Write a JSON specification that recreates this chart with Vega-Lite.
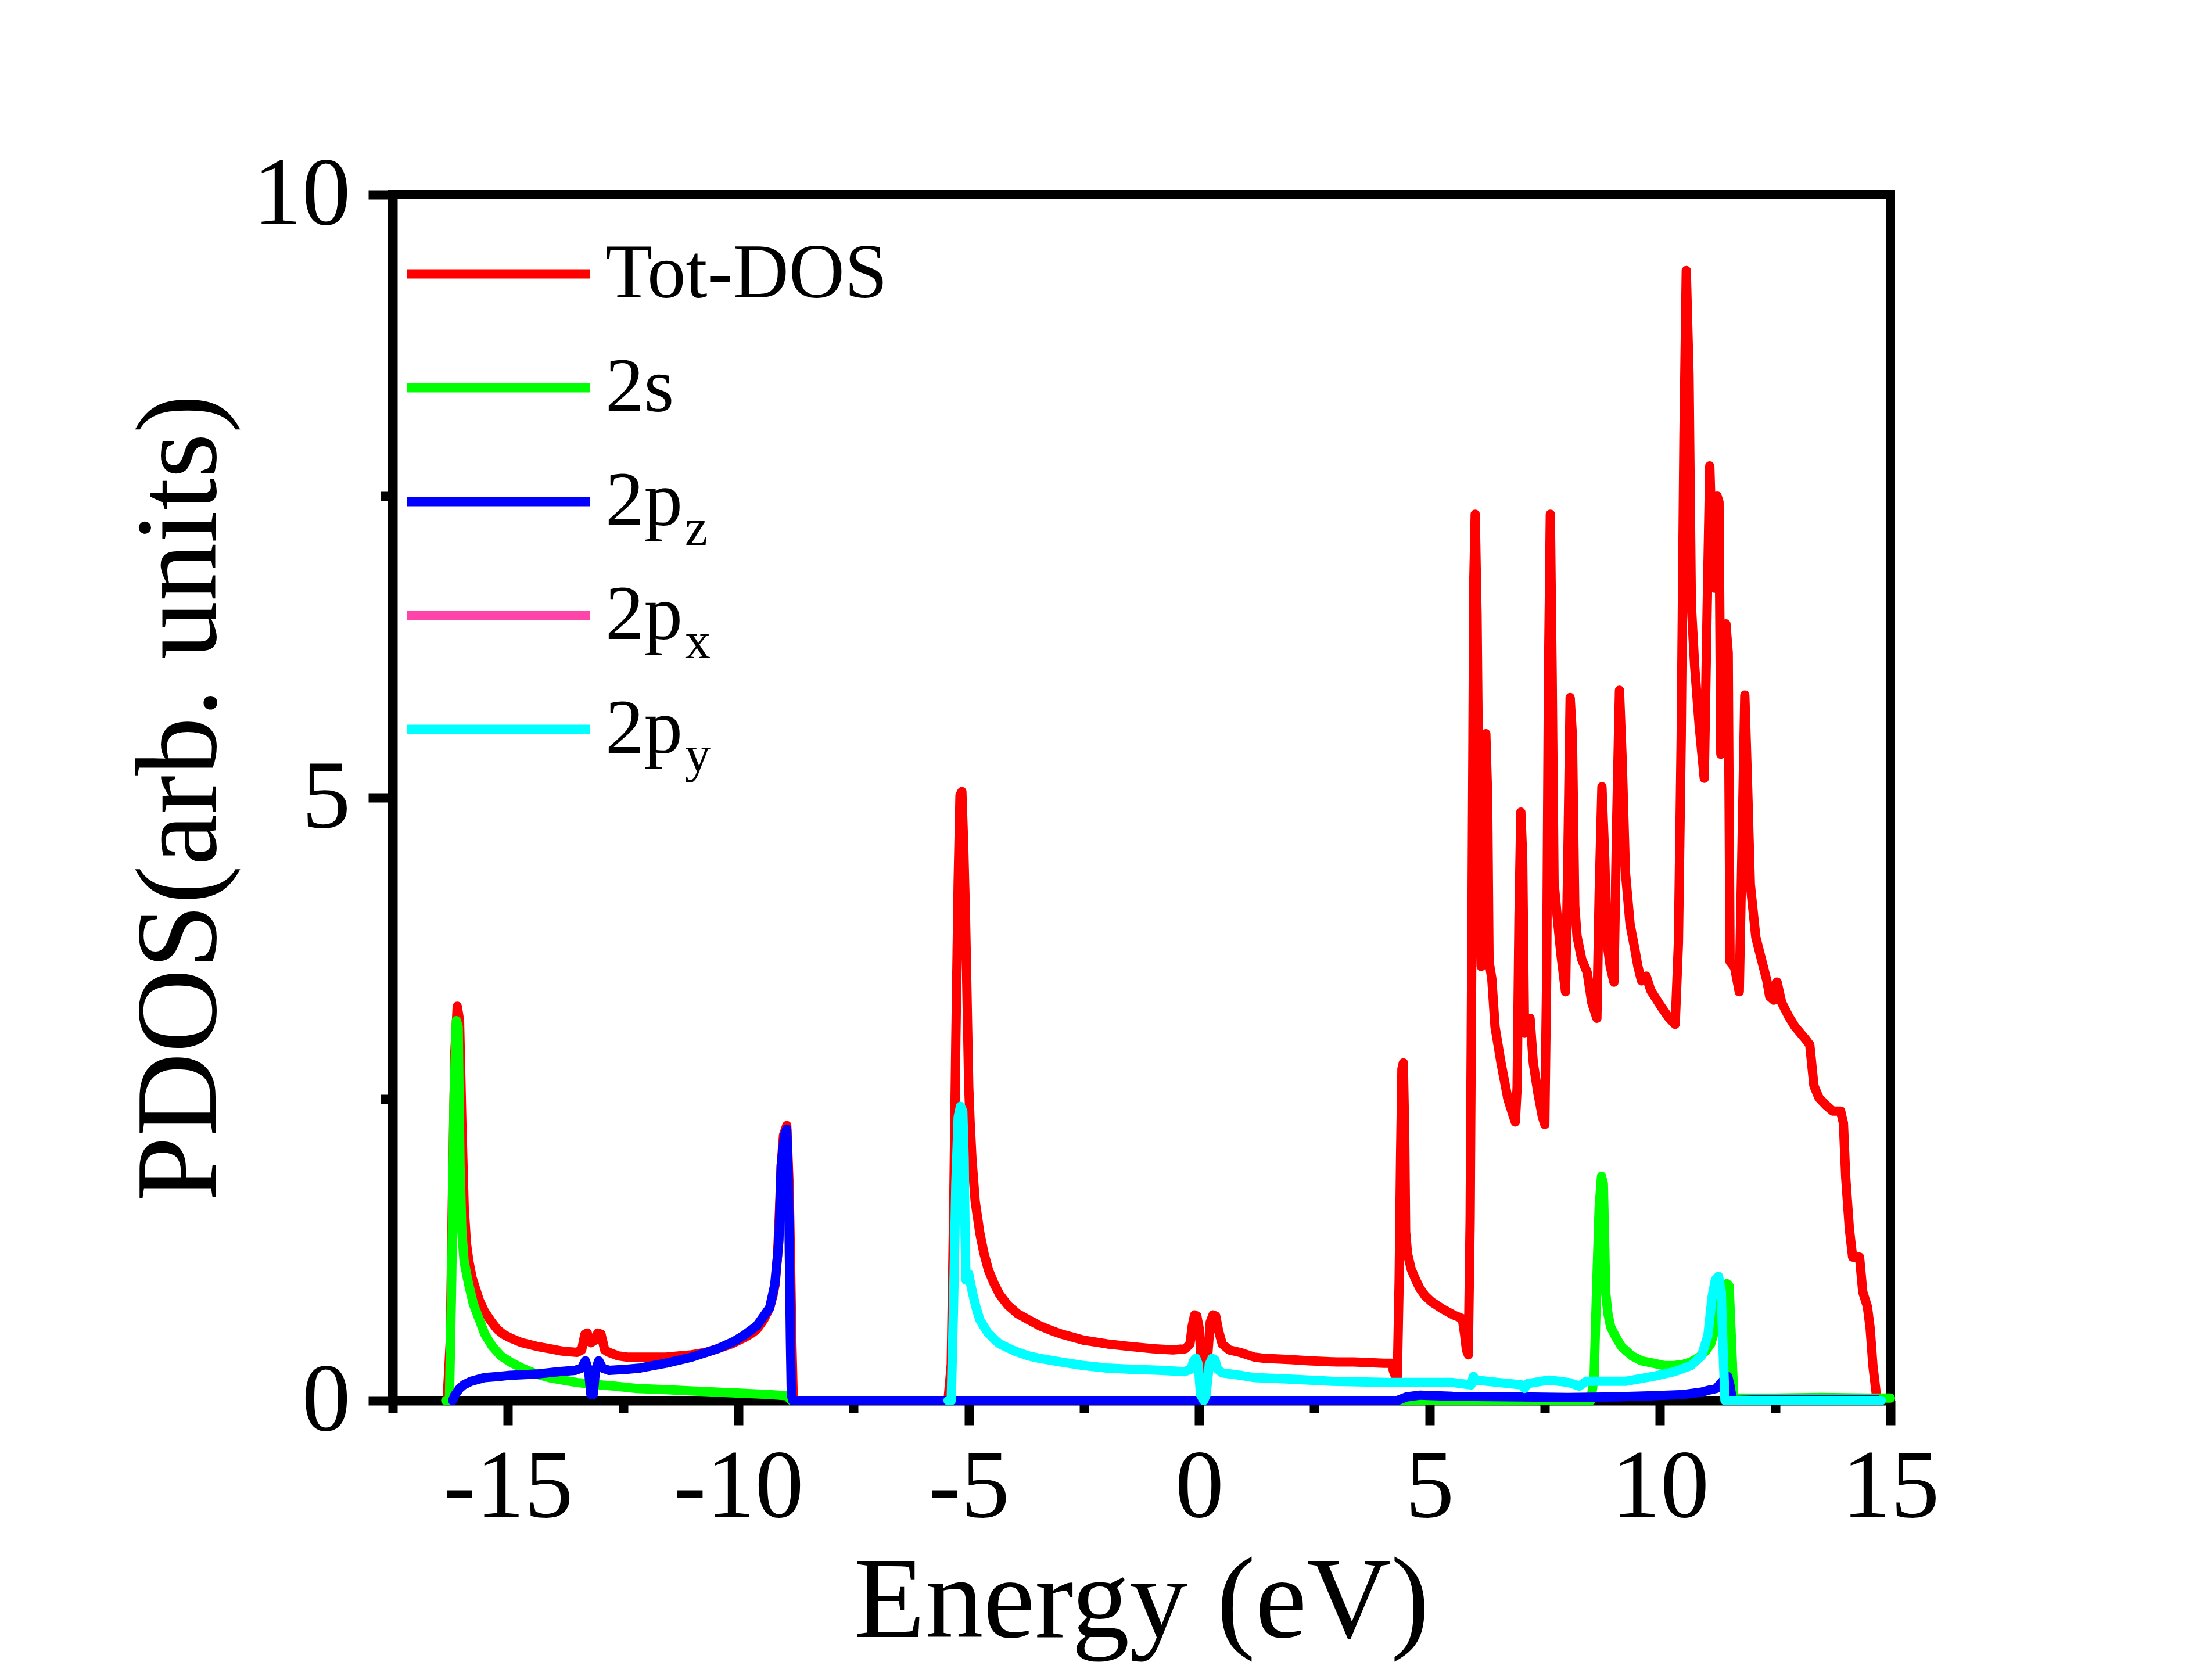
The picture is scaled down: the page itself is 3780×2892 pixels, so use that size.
{
  "$schema": "https://vega.github.io/schema/vega-lite/v6.json",
  "autosize": "none",
  "width": 2578,
  "height": 2076,
  "padding": {"left": 676, "top": 335, "right": 526, "bottom": 481},
  "background": "white",
  "config": {
    "view": {"stroke": "black", "strokeWidth": 16},
    "font": "Liberation Serif",
    "axis": {
      "domainColor": "black", "domainWidth": 16, "tickColor": "black", "tickWidth": 16,
      "grid": false, "labelColor": "black", "titleColor": "black", "zindex": 1,
      "labelFont": "Liberation Serif", "labelFontSize": 168, "titleFont": "Liberation Serif", "labelLimit": 0,
      "titleFontSize": 200, "titleFontWeight": "normal", "labelFlush": false, "labelOverlap": false, "labelBound": false
    }
  },
  "datasets": {
    "tot": [
      {"E": -16.32, "v": 0, "series": "Tot-DOS"}, {"E": -16.25, "v": 0.5, "series": "Tot-DOS"}, {"E": -16.2, "v": 1.8, "series": "Tot-DOS"},
      {"E": -16.15, "v": 2.9, "series": "Tot-DOS"}, {"E": -16.1, "v": 3.27, "series": "Tot-DOS"}, {"E": -16.05, "v": 3.15, "series": "Tot-DOS"},
      {"E": -16.0, "v": 2.3, "series": "Tot-DOS"}, {"E": -15.95, "v": 1.6, "series": "Tot-DOS"}, {"E": -15.9, "v": 1.3, "series": "Tot-DOS"},
      {"E": -15.85, "v": 1.16, "series": "Tot-DOS"}, {"E": -15.78, "v": 1.02, "series": "Tot-DOS"}, {"E": -15.73, "v": 0.96, "series": "Tot-DOS"},
      {"E": -15.62, "v": 0.83, "series": "Tot-DOS"}, {"E": -15.51, "v": 0.74, "series": "Tot-DOS"}, {"E": -15.37, "v": 0.66, "series": "Tot-DOS"},
      {"E": -15.23, "v": 0.59, "series": "Tot-DOS"}, {"E": -15.1, "v": 0.55, "series": "Tot-DOS"}, {"E": -14.95, "v": 0.52, "series": "Tot-DOS"},
      {"E": -14.7, "v": 0.48, "series": "Tot-DOS"}, {"E": -14.38, "v": 0.45, "series": "Tot-DOS"}, {"E": -14.1, "v": 0.43, "series": "Tot-DOS"},
      {"E": -13.82, "v": 0.41, "series": "Tot-DOS"}, {"E": -13.5, "v": 0.4, "series": "Tot-DOS"}, {"E": -13.4, "v": 0.42, "series": "Tot-DOS"},
      {"E": -13.33, "v": 0.55, "series": "Tot-DOS"}, {"E": -13.28, "v": 0.56, "series": "Tot-DOS"}, {"E": -13.2, "v": 0.48, "series": "Tot-DOS"},
      {"E": -13.12, "v": 0.5, "series": "Tot-DOS"}, {"E": -13.05, "v": 0.56, "series": "Tot-DOS"}, {"E": -12.98, "v": 0.55, "series": "Tot-DOS"},
      {"E": -12.9, "v": 0.42, "series": "Tot-DOS"}, {"E": -12.81, "v": 0.4, "series": "Tot-DOS"}, {"E": -12.6, "v": 0.37, "series": "Tot-DOS"},
      {"E": -12.41, "v": 0.36, "series": "Tot-DOS"}, {"E": -12.0, "v": 0.36, "series": "Tot-DOS"}, {"E": -11.57, "v": 0.36, "series": "Tot-DOS"},
      {"E": -11.3, "v": 0.37, "series": "Tot-DOS"}, {"E": -11.01, "v": 0.38, "series": "Tot-DOS"}, {"E": -10.7, "v": 0.4, "series": "Tot-DOS"},
      {"E": -10.45, "v": 0.43, "series": "Tot-DOS"}, {"E": -10.15, "v": 0.47, "series": "Tot-DOS"}, {"E": -9.88, "v": 0.52, "series": "Tot-DOS"},
      {"E": -9.7, "v": 0.56, "series": "Tot-DOS"}, {"E": -9.6, "v": 0.59, "series": "Tot-DOS"}, {"E": -9.45, "v": 0.67, "series": "Tot-DOS"},
      {"E": -9.32, "v": 0.77, "series": "Tot-DOS"}, {"E": -9.25, "v": 0.87, "series": "Tot-DOS"}, {"E": -9.2, "v": 0.97, "series": "Tot-DOS"},
      {"E": -9.15, "v": 1.2, "series": "Tot-DOS"}, {"E": -9.12, "v": 1.45, "series": "Tot-DOS"}, {"E": -9.07, "v": 1.95, "series": "Tot-DOS"},
      {"E": -9.02, "v": 2.2, "series": "Tot-DOS"}, {"E": -8.95, "v": 2.28, "series": "Tot-DOS"}, {"E": -8.9, "v": 1.8, "series": "Tot-DOS"},
      {"E": -8.87, "v": 1.21, "series": "Tot-DOS"}, {"E": -8.84, "v": 0.5, "series": "Tot-DOS"}, {"E": -8.81, "v": 0.04, "series": "Tot-DOS"},
      {"E": -8.78, "v": 0, "series": "Tot-DOS"}, {"E": -5.45, "v": 0, "series": "Tot-DOS"}, {"E": -5.38, "v": 0.3, "series": "Tot-DOS"},
      {"E": -5.33, "v": 1.5, "series": "Tot-DOS"}, {"E": -5.28, "v": 3.0, "series": "Tot-DOS"}, {"E": -5.23, "v": 4.3, "series": "Tot-DOS"},
      {"E": -5.19, "v": 5.02, "series": "Tot-DOS"}, {"E": -5.15, "v": 5.05, "series": "Tot-DOS"}, {"E": -5.11, "v": 4.6, "series": "Tot-DOS"},
      {"E": -5.07, "v": 4.0, "series": "Tot-DOS"}, {"E": -5.03, "v": 3.2, "series": "Tot-DOS"}, {"E": -5.0, "v": 2.6, "series": "Tot-DOS"},
      {"E": -4.97, "v": 2.3, "series": "Tot-DOS"}, {"E": -4.93, "v": 2.0, "series": "Tot-DOS"}, {"E": -4.86, "v": 1.65, "series": "Tot-DOS"},
      {"E": -4.76, "v": 1.39, "series": "Tot-DOS"}, {"E": -4.67, "v": 1.22, "series": "Tot-DOS"}, {"E": -4.57, "v": 1.08, "series": "Tot-DOS"},
      {"E": -4.45, "v": 0.97, "series": "Tot-DOS"}, {"E": -4.33, "v": 0.88, "series": "Tot-DOS"}, {"E": -4.15, "v": 0.79, "series": "Tot-DOS"},
      {"E": -3.94, "v": 0.72, "series": "Tot-DOS"}, {"E": -3.7, "v": 0.67, "series": "Tot-DOS"}, {"E": -3.46, "v": 0.62, "series": "Tot-DOS"},
      {"E": -3.2, "v": 0.58, "series": "Tot-DOS"}, {"E": -2.98, "v": 0.55, "series": "Tot-DOS"}, {"E": -2.5, "v": 0.5, "series": "Tot-DOS"},
      {"E": -2.0, "v": 0.47, "series": "Tot-DOS"}, {"E": -1.53, "v": 0.45, "series": "Tot-DOS"}, {"E": -1.0, "v": 0.43, "series": "Tot-DOS"},
      {"E": -0.57, "v": 0.42, "series": "Tot-DOS"}, {"E": -0.3, "v": 0.43, "series": "Tot-DOS"}, {"E": -0.2, "v": 0.47, "series": "Tot-DOS"},
      {"E": -0.15, "v": 0.62, "series": "Tot-DOS"}, {"E": -0.1, "v": 0.71, "series": "Tot-DOS"}, {"E": -0.05, "v": 0.7, "series": "Tot-DOS"},
      {"E": 0.0, "v": 0.6, "series": "Tot-DOS"}, {"E": 0.05, "v": 0.3, "series": "Tot-DOS"}, {"E": 0.1, "v": 0.05, "series": "Tot-DOS"},
      {"E": 0.14, "v": 0.05, "series": "Tot-DOS"}, {"E": 0.18, "v": 0.35, "series": "Tot-DOS"}, {"E": 0.24, "v": 0.65, "series": "Tot-DOS"},
      {"E": 0.3, "v": 0.71, "series": "Tot-DOS"}, {"E": 0.36, "v": 0.7, "series": "Tot-DOS"}, {"E": 0.42, "v": 0.58, "series": "Tot-DOS"},
      {"E": 0.5, "v": 0.47, "series": "Tot-DOS"}, {"E": 0.65, "v": 0.42, "series": "Tot-DOS"}, {"E": 0.88, "v": 0.4, "series": "Tot-DOS"},
      {"E": 1.2, "v": 0.36, "series": "Tot-DOS"}, {"E": 1.42, "v": 0.35, "series": "Tot-DOS"}, {"E": 2.0, "v": 0.34, "series": "Tot-DOS"},
      {"E": 2.38, "v": 0.33, "series": "Tot-DOS"}, {"E": 3.0, "v": 0.32, "series": "Tot-DOS"}, {"E": 3.35, "v": 0.32, "series": "Tot-DOS"},
      {"E": 4.0, "v": 0.31, "series": "Tot-DOS"}, {"E": 4.17, "v": 0.31, "series": "Tot-DOS"}, {"E": 4.22, "v": 0.24, "series": "Tot-DOS"},
      {"E": 4.28, "v": 0.18, "series": "Tot-DOS"}, {"E": 4.3, "v": 0.2, "series": "Tot-DOS"}, {"E": 4.34, "v": 1.0, "series": "Tot-DOS"},
      {"E": 4.37, "v": 2.0, "series": "Tot-DOS"}, {"E": 4.4, "v": 2.75, "series": "Tot-DOS"}, {"E": 4.43, "v": 2.8, "series": "Tot-DOS"},
      {"E": 4.46, "v": 2.2, "series": "Tot-DOS"}, {"E": 4.48, "v": 1.4, "series": "Tot-DOS"}, {"E": 4.52, "v": 1.22, "series": "Tot-DOS"},
      {"E": 4.6, "v": 1.09, "series": "Tot-DOS"}, {"E": 4.7, "v": 1.0, "series": "Tot-DOS"}, {"E": 4.79, "v": 0.93, "series": "Tot-DOS"},
      {"E": 4.9, "v": 0.87, "series": "Tot-DOS"}, {"E": 5.04, "v": 0.82, "series": "Tot-DOS"}, {"E": 5.28, "v": 0.76, "series": "Tot-DOS"},
      {"E": 5.52, "v": 0.71, "series": "Tot-DOS"}, {"E": 5.71, "v": 0.68, "series": "Tot-DOS"}, {"E": 5.76, "v": 0.55, "series": "Tot-DOS"},
      {"E": 5.8, "v": 0.42, "series": "Tot-DOS"}, {"E": 5.84, "v": 0.38, "series": "Tot-DOS"}, {"E": 5.88, "v": 1.5, "series": "Tot-DOS"},
      {"E": 5.92, "v": 4.0, "series": "Tot-DOS"}, {"E": 5.96, "v": 6.8, "series": "Tot-DOS"}, {"E": 5.99, "v": 7.35, "series": "Tot-DOS"},
      {"E": 6.03, "v": 6.5, "series": "Tot-DOS"}, {"E": 6.08, "v": 4.5, "series": "Tot-DOS"}, {"E": 6.12, "v": 3.6, "series": "Tot-DOS"},
      {"E": 6.17, "v": 4.6, "series": "Tot-DOS"}, {"E": 6.22, "v": 5.53, "series": "Tot-DOS"}, {"E": 6.26, "v": 5.0, "series": "Tot-DOS"},
      {"E": 6.29, "v": 3.64, "series": "Tot-DOS"}, {"E": 6.35, "v": 3.5, "series": "Tot-DOS"}, {"E": 6.42, "v": 3.1, "series": "Tot-DOS"},
      {"E": 6.55, "v": 2.8, "series": "Tot-DOS"}, {"E": 6.7, "v": 2.5, "series": "Tot-DOS"}, {"E": 6.8, "v": 2.38, "series": "Tot-DOS"},
      {"E": 6.86, "v": 2.31, "series": "Tot-DOS"}, {"E": 6.9, "v": 2.6, "series": "Tot-DOS"}, {"E": 6.94, "v": 4.0, "series": "Tot-DOS"},
      {"E": 6.98, "v": 4.88, "series": "Tot-DOS"}, {"E": 7.02, "v": 4.5, "series": "Tot-DOS"}, {"E": 7.06, "v": 3.05, "series": "Tot-DOS"},
      {"E": 7.12, "v": 3.1, "series": "Tot-DOS"}, {"E": 7.18, "v": 3.17, "series": "Tot-DOS"}, {"E": 7.25, "v": 2.8, "series": "Tot-DOS"},
      {"E": 7.35, "v": 2.55, "series": "Tot-DOS"}, {"E": 7.45, "v": 2.35, "series": "Tot-DOS"}, {"E": 7.5, "v": 2.29, "series": "Tot-DOS"},
      {"E": 7.54, "v": 3.5, "series": "Tot-DOS"}, {"E": 7.58, "v": 6.0, "series": "Tot-DOS"}, {"E": 7.62, "v": 7.35, "series": "Tot-DOS"},
      {"E": 7.66, "v": 6.0, "series": "Tot-DOS"}, {"E": 7.7, "v": 4.3, "series": "Tot-DOS"}, {"E": 7.76, "v": 4.05, "series": "Tot-DOS"},
      {"E": 7.85, "v": 3.7, "series": "Tot-DOS"}, {"E": 7.95, "v": 3.39, "series": "Tot-DOS"}, {"E": 8.0, "v": 4.5, "series": "Tot-DOS"},
      {"E": 8.05, "v": 5.83, "series": "Tot-DOS"}, {"E": 8.1, "v": 5.5, "series": "Tot-DOS"}, {"E": 8.15, "v": 4.1, "series": "Tot-DOS"},
      {"E": 8.2, "v": 3.85, "series": "Tot-DOS"}, {"E": 8.3, "v": 3.66, "series": "Tot-DOS"}, {"E": 8.42, "v": 3.55, "series": "Tot-DOS"},
      {"E": 8.52, "v": 3.3, "series": "Tot-DOS"}, {"E": 8.63, "v": 3.17, "series": "Tot-DOS"}, {"E": 8.68, "v": 4.2, "series": "Tot-DOS"},
      {"E": 8.74, "v": 5.09, "series": "Tot-DOS"}, {"E": 8.8, "v": 4.5, "series": "Tot-DOS"}, {"E": 8.85, "v": 3.8, "series": "Tot-DOS"},
      {"E": 8.92, "v": 3.6, "series": "Tot-DOS"}, {"E": 9.0, "v": 3.47, "series": "Tot-DOS"}, {"E": 9.06, "v": 4.8, "series": "Tot-DOS"},
      {"E": 9.12, "v": 5.89, "series": "Tot-DOS"}, {"E": 9.18, "v": 5.3, "series": "Tot-DOS"}, {"E": 9.25, "v": 4.38, "series": "Tot-DOS"},
      {"E": 9.35, "v": 3.95, "series": "Tot-DOS"}, {"E": 9.45, "v": 3.75, "series": "Tot-DOS"}, {"E": 9.52, "v": 3.6, "series": "Tot-DOS"},
      {"E": 9.6, "v": 3.48, "series": "Tot-DOS"}, {"E": 9.7, "v": 3.52, "series": "Tot-DOS"}, {"E": 9.8, "v": 3.4, "series": "Tot-DOS"},
      {"E": 10.0, "v": 3.28, "series": "Tot-DOS"}, {"E": 10.2, "v": 3.17, "series": "Tot-DOS"}, {"E": 10.33, "v": 3.12, "series": "Tot-DOS"},
      {"E": 10.4, "v": 3.8, "series": "Tot-DOS"}, {"E": 10.46, "v": 5.5, "series": "Tot-DOS"}, {"E": 10.52, "v": 8.0, "series": "Tot-DOS"},
      {"E": 10.57, "v": 9.37, "series": "Tot-DOS"}, {"E": 10.63, "v": 8.5, "series": "Tot-DOS"}, {"E": 10.68, "v": 6.6, "series": "Tot-DOS"},
      {"E": 10.75, "v": 6.1, "series": "Tot-DOS"}, {"E": 10.85, "v": 5.6, "series": "Tot-DOS"}, {"E": 10.96, "v": 5.16, "series": "Tot-DOS"},
      {"E": 11.02, "v": 6.5, "series": "Tot-DOS"}, {"E": 11.08, "v": 7.75, "series": "Tot-DOS"}, {"E": 11.14, "v": 7.0, "series": "Tot-DOS"},
      {"E": 11.18, "v": 6.74, "series": "Tot-DOS"}, {"E": 11.24, "v": 7.5, "series": "Tot-DOS"}, {"E": 11.28, "v": 7.45, "series": "Tot-DOS"},
      {"E": 11.32, "v": 5.36, "series": "Tot-DOS"}, {"E": 11.38, "v": 5.6, "series": "Tot-DOS"}, {"E": 11.43, "v": 6.44, "series": "Tot-DOS"},
      {"E": 11.48, "v": 6.2, "series": "Tot-DOS"}, {"E": 11.52, "v": 3.64, "series": "Tot-DOS"}, {"E": 11.62, "v": 3.59, "series": "Tot-DOS"},
      {"E": 11.72, "v": 3.39, "series": "Tot-DOS"}, {"E": 11.78, "v": 4.6, "series": "Tot-DOS"}, {"E": 11.84, "v": 5.85, "series": "Tot-DOS"},
      {"E": 11.9, "v": 5.1, "series": "Tot-DOS"}, {"E": 11.96, "v": 4.28, "series": "Tot-DOS"}, {"E": 12.08, "v": 3.84, "series": "Tot-DOS"},
      {"E": 12.2, "v": 3.66, "series": "Tot-DOS"}, {"E": 12.32, "v": 3.48, "series": "Tot-DOS"}, {"E": 12.38, "v": 3.35, "series": "Tot-DOS"},
      {"E": 12.47, "v": 3.32, "series": "Tot-DOS"}, {"E": 12.54, "v": 3.47, "series": "Tot-DOS"}, {"E": 12.64, "v": 3.3, "series": "Tot-DOS"},
      {"E": 12.8, "v": 3.18, "series": "Tot-DOS"}, {"E": 12.93, "v": 3.1, "series": "Tot-DOS"}, {"E": 13.15, "v": 3.0, "series": "Tot-DOS"},
      {"E": 13.25, "v": 2.95, "series": "Tot-DOS"}, {"E": 13.34, "v": 2.61, "series": "Tot-DOS"}, {"E": 13.45, "v": 2.51, "series": "Tot-DOS"},
      {"E": 13.6, "v": 2.45, "series": "Tot-DOS"}, {"E": 13.75, "v": 2.4, "series": "Tot-DOS"}, {"E": 13.92, "v": 2.4, "series": "Tot-DOS"},
      {"E": 13.98, "v": 2.3, "series": "Tot-DOS"}, {"E": 14.03, "v": 1.85, "series": "Tot-DOS"}, {"E": 14.11, "v": 1.42, "series": "Tot-DOS"},
      {"E": 14.18, "v": 1.19, "series": "Tot-DOS"}, {"E": 14.33, "v": 1.19, "series": "Tot-DOS"}, {"E": 14.4, "v": 0.9, "series": "Tot-DOS"},
      {"E": 14.5, "v": 0.78, "series": "Tot-DOS"}, {"E": 14.56, "v": 0.6, "series": "Tot-DOS"}, {"E": 14.62, "v": 0.29, "series": "Tot-DOS"},
      {"E": 14.71, "v": 0.0, "series": "Tot-DOS"}
    ],
    "s2": [
      {"E": -16.35, "v": 0, "series": "2s"}, {"E": -16.27, "v": 0, "series": "2s"}, {"E": -16.22, "v": 1.0, "series": "2s"},
      {"E": -16.17, "v": 2.5, "series": "2s"}, {"E": -16.12, "v": 3.15, "series": "2s"}, {"E": -16.08, "v": 3.1, "series": "2s"},
      {"E": -16.04, "v": 1.95, "series": "2s"}, {"E": -16.0, "v": 1.4, "series": "2s"}, {"E": -15.95, "v": 1.15, "series": "2s"},
      {"E": -15.85, "v": 0.96, "series": "2s"}, {"E": -15.75, "v": 0.8, "series": "2s"}, {"E": -15.62, "v": 0.67, "series": "2s"},
      {"E": -15.5, "v": 0.55, "series": "2s"}, {"E": -15.34, "v": 0.45, "series": "2s"}, {"E": -15.15, "v": 0.37, "series": "2s"},
      {"E": -14.95, "v": 0.32, "series": "2s"}, {"E": -14.7, "v": 0.27, "series": "2s"}, {"E": -14.38, "v": 0.22, "series": "2s"},
      {"E": -14.1, "v": 0.19, "series": "2s"}, {"E": -13.82, "v": 0.17, "series": "2s"}, {"E": -13.5, "v": 0.15, "series": "2s"},
      {"E": -13.26, "v": 0.14, "series": "2s"}, {"E": -13.0, "v": 0.13, "series": "2s"}, {"E": -12.7, "v": 0.12, "series": "2s"},
      {"E": -12.2, "v": 0.1, "series": "2s"}, {"E": -11.57, "v": 0.09, "series": "2s"}, {"E": -11.0, "v": 0.08, "series": "2s"},
      {"E": -10.45, "v": 0.07, "series": "2s"}, {"E": -9.9, "v": 0.06, "series": "2s"}, {"E": -9.32, "v": 0.05, "series": "2s"},
      {"E": -8.95, "v": 0.04, "series": "2s"}, {"E": -8.85, "v": 0, "series": "2s"}, {"E": 8.5, "v": 0, "series": "2s"},
      {"E": 8.57, "v": 0.2, "series": "2s"}, {"E": 8.63, "v": 1.0, "series": "2s"}, {"E": 8.68, "v": 1.6, "series": "2s"},
      {"E": 8.73, "v": 1.86, "series": "2s"}, {"E": 8.77, "v": 1.8, "series": "2s"}, {"E": 8.8, "v": 1.3, "series": "2s"},
      {"E": 8.82, "v": 0.9, "series": "2s"}, {"E": 8.87, "v": 0.72, "series": "2s"}, {"E": 8.93, "v": 0.61, "series": "2s"},
      {"E": 9.05, "v": 0.52, "series": "2s"}, {"E": 9.16, "v": 0.45, "series": "2s"}, {"E": 9.39, "v": 0.37, "series": "2s"},
      {"E": 9.6, "v": 0.33, "series": "2s"}, {"E": 9.85, "v": 0.31, "series": "2s"}, {"E": 10.1, "v": 0.29, "series": "2s"},
      {"E": 10.31, "v": 0.29, "series": "2s"}, {"E": 10.5, "v": 0.3, "series": "2s"}, {"E": 10.67, "v": 0.32, "series": "2s"},
      {"E": 10.85, "v": 0.36, "series": "2s"}, {"E": 10.99, "v": 0.41, "series": "2s"}, {"E": 11.1, "v": 0.47, "series": "2s"},
      {"E": 11.2, "v": 0.6, "series": "2s"}, {"E": 11.3, "v": 0.8, "series": "2s"}, {"E": 11.38, "v": 0.95, "series": "2s"},
      {"E": 11.45, "v": 0.97, "series": "2s"}, {"E": 11.5, "v": 0.95, "series": "2s"}, {"E": 11.55, "v": 0.5, "series": "2s"},
      {"E": 11.6, "v": 0.02, "series": "2s"}, {"E": 12.5, "v": 0.02, "series": "2s"}, {"E": 13.5, "v": 0.025, "series": "2s"},
      {"E": 14.5, "v": 0.02, "series": "2s"}, {"E": 15.0, "v": 0.02, "series": "2s"}
    ],
    "pz": [
      {"E": -16.2, "v": 0, "series": "2p_z"}, {"E": -16.16, "v": 0.04, "series": "2p_z"}, {"E": -16.05, "v": 0.1, "series": "2p_z"},
      {"E": -15.96, "v": 0.13, "series": "2p_z"}, {"E": -15.8, "v": 0.16, "series": "2p_z"}, {"E": -15.51, "v": 0.19, "series": "2p_z"},
      {"E": -15.2, "v": 0.2, "series": "2p_z"}, {"E": -14.95, "v": 0.21, "series": "2p_z"}, {"E": -14.38, "v": 0.22, "series": "2p_z"},
      {"E": -13.9, "v": 0.24, "series": "2p_z"}, {"E": -13.54, "v": 0.25, "series": "2p_z"}, {"E": -13.4, "v": 0.27, "series": "2p_z"},
      {"E": -13.32, "v": 0.33, "series": "2p_z"}, {"E": -13.25, "v": 0.25, "series": "2p_z"}, {"E": -13.2, "v": 0.05, "series": "2p_z"},
      {"E": -13.15, "v": 0.05, "series": "2p_z"}, {"E": -13.1, "v": 0.25, "series": "2p_z"}, {"E": -13.03, "v": 0.33, "series": "2p_z"},
      {"E": -12.95, "v": 0.27, "series": "2p_z"}, {"E": -12.8, "v": 0.25, "series": "2p_z"}, {"E": -12.4, "v": 0.26, "series": "2p_z"},
      {"E": -12.13, "v": 0.27, "series": "2p_z"}, {"E": -11.57, "v": 0.31, "series": "2p_z"}, {"E": -11.01, "v": 0.36, "series": "2p_z"},
      {"E": -10.45, "v": 0.43, "series": "2p_z"}, {"E": -10.1, "v": 0.49, "series": "2p_z"}, {"E": -9.88, "v": 0.54, "series": "2p_z"},
      {"E": -9.6, "v": 0.62, "series": "2p_z"}, {"E": -9.45, "v": 0.7, "series": "2p_z"}, {"E": -9.32, "v": 0.77, "series": "2p_z"},
      {"E": -9.21, "v": 0.96, "series": "2p_z"}, {"E": -9.15, "v": 1.2, "series": "2p_z"}, {"E": -9.12, "v": 1.33, "series": "2p_z"},
      {"E": -9.07, "v": 1.95, "series": "2p_z"}, {"E": -9.0, "v": 2.2, "series": "2p_z"}, {"E": -8.95, "v": 2.25, "series": "2p_z"},
      {"E": -8.92, "v": 1.9, "series": "2p_z"}, {"E": -8.9, "v": 1.45, "series": "2p_z"}, {"E": -8.87, "v": 0.5, "series": "2p_z"},
      {"E": -8.85, "v": 0.05, "series": "2p_z"}, {"E": -8.82, "v": 0, "series": "2p_z"}, {"E": 4.3, "v": 0, "series": "2p_z"},
      {"E": 4.5, "v": 0.03, "series": "2p_z"}, {"E": 4.8, "v": 0.045, "series": "2p_z"}, {"E": 5.5, "v": 0.035, "series": "2p_z"},
      {"E": 7.0, "v": 0.03, "series": "2p_z"}, {"E": 8.0, "v": 0.025, "series": "2p_z"}, {"E": 9.0, "v": 0.03, "series": "2p_z"},
      {"E": 9.85, "v": 0.04, "series": "2p_z"}, {"E": 10.5, "v": 0.05, "series": "2p_z"}, {"E": 10.9, "v": 0.07, "series": "2p_z"},
      {"E": 11.1, "v": 0.09, "series": "2p_z"}, {"E": 11.22, "v": 0.1, "series": "2p_z"}, {"E": 11.4, "v": 0.18, "series": "2p_z"},
      {"E": 11.47, "v": 0.2, "series": "2p_z"}, {"E": 11.52, "v": 0.12, "series": "2p_z"}, {"E": 11.57, "v": 0, "series": "2p_z"},
      {"E": 12.5, "v": 0.01, "series": "2p_z"}, {"E": 14.7, "v": 0.01, "series": "2p_z"}
    ],
    "py": [
      {"E": -5.45, "v": 0, "series": "2p_y"}, {"E": -5.38, "v": 0, "series": "2p_y"}, {"E": -5.33, "v": 0.8, "series": "2p_y"},
      {"E": -5.28, "v": 1.8, "series": "2p_y"}, {"E": -5.23, "v": 2.35, "series": "2p_y"}, {"E": -5.18, "v": 2.44, "series": "2p_y"},
      {"E": -5.13, "v": 2.4, "series": "2p_y"}, {"E": -5.1, "v": 2.0, "series": "2p_y"}, {"E": -5.08, "v": 1.4, "series": "2p_y"},
      {"E": -5.06, "v": 1.0, "series": "2p_y"}, {"E": -5.0, "v": 1.05, "series": "2p_y"}, {"E": -4.95, "v": 0.95, "series": "2p_y"},
      {"E": -4.91, "v": 0.88, "series": "2p_y"}, {"E": -4.84, "v": 0.77, "series": "2p_y"}, {"E": -4.76, "v": 0.67, "series": "2p_y"},
      {"E": -4.6, "v": 0.57, "series": "2p_y"}, {"E": -4.45, "v": 0.51, "series": "2p_y"}, {"E": -4.33, "v": 0.47, "series": "2p_y"},
      {"E": -4.0, "v": 0.41, "series": "2p_y"}, {"E": -3.7, "v": 0.37, "series": "2p_y"}, {"E": -3.46, "v": 0.35, "series": "2p_y"},
      {"E": -3.0, "v": 0.32, "series": "2p_y"}, {"E": -2.5, "v": 0.29, "series": "2p_y"}, {"E": -2.0, "v": 0.27, "series": "2p_y"},
      {"E": -1.5, "v": 0.26, "series": "2p_y"}, {"E": -0.8, "v": 0.25, "series": "2p_y"}, {"E": -0.32, "v": 0.24, "series": "2p_y"},
      {"E": -0.18, "v": 0.26, "series": "2p_y"}, {"E": -0.12, "v": 0.33, "series": "2p_y"}, {"E": -0.07, "v": 0.35, "series": "2p_y"},
      {"E": -0.02, "v": 0.3, "series": "2p_y"}, {"E": 0.03, "v": 0.05, "series": "2p_y"}, {"E": 0.1, "v": 0, "series": "2p_y"},
      {"E": 0.15, "v": 0.05, "series": "2p_y"}, {"E": 0.22, "v": 0.3, "series": "2p_y"}, {"E": 0.28, "v": 0.35, "series": "2p_y"},
      {"E": 0.34, "v": 0.34, "series": "2p_y"}, {"E": 0.4, "v": 0.26, "series": "2p_y"}, {"E": 0.5, "v": 0.23, "series": "2p_y"},
      {"E": 0.88, "v": 0.21, "series": "2p_y"}, {"E": 1.21, "v": 0.19, "series": "2p_y"}, {"E": 1.9, "v": 0.18, "series": "2p_y"},
      {"E": 2.87, "v": 0.16, "series": "2p_y"}, {"E": 4.07, "v": 0.15, "series": "2p_y"}, {"E": 5.5, "v": 0.15, "series": "2p_y"},
      {"E": 5.9, "v": 0.13, "series": "2p_y"}, {"E": 5.95, "v": 0.2, "series": "2p_y"}, {"E": 6.0, "v": 0.17, "series": "2p_y"},
      {"E": 6.5, "v": 0.15, "series": "2p_y"}, {"E": 7.0, "v": 0.13, "series": "2p_y"}, {"E": 7.06, "v": 0.1, "series": "2p_y"},
      {"E": 7.12, "v": 0.14, "series": "2p_y"}, {"E": 7.59, "v": 0.17, "series": "2p_y"}, {"E": 8.02, "v": 0.15, "series": "2p_y"},
      {"E": 8.25, "v": 0.12, "series": "2p_y"}, {"E": 8.4, "v": 0.16, "series": "2p_y"}, {"E": 9.25, "v": 0.16, "series": "2p_y"},
      {"E": 9.85, "v": 0.2, "series": "2p_y"}, {"E": 10.31, "v": 0.24, "series": "2p_y"}, {"E": 10.67, "v": 0.29, "series": "2p_y"},
      {"E": 10.9, "v": 0.37, "series": "2p_y"}, {"E": 11.04, "v": 0.54, "series": "2p_y"}, {"E": 11.13, "v": 0.86, "series": "2p_y"},
      {"E": 11.2, "v": 1.0, "series": "2p_y"}, {"E": 11.27, "v": 1.03, "series": "2p_y"}, {"E": 11.33, "v": 0.9, "series": "2p_y"},
      {"E": 11.37, "v": 0.4, "series": "2p_y"}, {"E": 11.41, "v": 0, "series": "2p_y"}, {"E": 14.8, "v": 0, "series": "2p_y"}
    ]
  },
  "encoding": {
    "x": {
      "field": "E", "type": "quantitative",
      "scale": {"domain": [-17.5, 15], "nice": false, "zero": false},
      "axis": {
        "title": "Energy (eV)",
        "values": [-17.5, -15, -12.5, -10, -7.5, -5, -2.5, 0, 2.5, 5, 7.5, 10, 12.5, 15],
        "labelExpr": "datum.value % 5 === 0 ? toString(datum.value) : ''",
        "tickSize": {"condition": {"test": "datum.value % 5 === 0", "value": 42}, "value": 21},
        "labelPadding": 24, "labelBaseline": "top",
        "titleX": 1289, "titleY": 406, "titleAlign": "center", "titleBaseline": "alphabetic", "titleAngle": 0
      }
    },
    "y": {
      "field": "v", "type": "quantitative",
      "scale": {"domain": [0, 10], "nice": false, "zero": false},
      "axis": {
        "title": "PDOS(arb. units)",
        "values": [0, 2.5, 5, 7.5, 10],
        "labelExpr": "datum.value % 5 === 0 ? toString(datum.value) : ''",
        "tickSize": {"condition": {"test": "datum.value % 5 === 0", "value": 42}, "value": 21},
        "labelPadding": 31,
        "titleX": -306, "titleY": 1038, "titleAlign": "center", "titleBaseline": "alphabetic", "titleAngle": -90
      }
    },
    "color": {
      "field": "series", "type": "nominal",
      "scale": {"domain": ["Tot-DOS", "2s", "2p_z", "2p_x", "2p_y"], "range": ["#FF0000", "#00FF00", "#0000FF", "#FF44AA", "#00FFFF"]},
      "legend": {
        "orient": "none", "legendX": 16, "legendY": 70, "title": null, "padding": 0,
        "symbolType": "stroke", "symbolSize": 99856, "symbolStrokeWidth": 16,
        "clipHeight": 133, "rowPadding": 62,
        "labelFont": "Liberation Serif", "labelFontSize": 133, "labelColor": "black", "labelOffset": 18, "labelLimit": 0,
        "labelExpr": "indexof(datum.label, '_') > 0 ? substring(datum.label, 0, indexof(datum.label, '_')) : datum.label"
      }
    },
    "opacity": {
      "field": "series", "type": "nominal",
      "scale": {"type": "ordinal", "domain": ["Tot-DOS", "2s", "2p_z", "2p_x", "2p_y", "_"], "range": [1, 1, 1, 1, 1, 1]},
      "legend": {
        "orient": "none", "legendX": 153, "legendY": 120, "title": null, "padding": 0,
        "symbolType": "stroke", "symbolSize": 99856, "symbolStrokeWidth": 16, "symbolStrokeColor": "transparent", "symbolFillColor": "transparent",
        "clipHeight": 133, "rowPadding": 62,
        "labelFont": "Liberation Serif", "labelFontSize": 88, "labelColor": "black", "labelOffset": 18, "labelLimit": 0,
        "labelExpr": "indexof(datum.label, '_') > 0 ? substring(datum.label, indexof(datum.label, '_') + 1) : ''"
      }
    }
  },
  "layer": [
    {"data": {"name": "tot"}, "mark": {"type": "line", "strokeWidth": 16, "strokeCap": "round", "strokeJoin": "round"}},
    {"data": {"name": "s2"}, "mark": {"type": "line", "strokeWidth": 16, "strokeCap": "round", "strokeJoin": "round"}},
    {"data": {"name": "pz"}, "mark": {"type": "line", "strokeWidth": 16, "strokeCap": "round", "strokeJoin": "round"}},
    {"data": {"name": "py"}, "mark": {"type": "line", "strokeWidth": 16, "strokeCap": "round", "strokeJoin": "round"}}
  ]
}
